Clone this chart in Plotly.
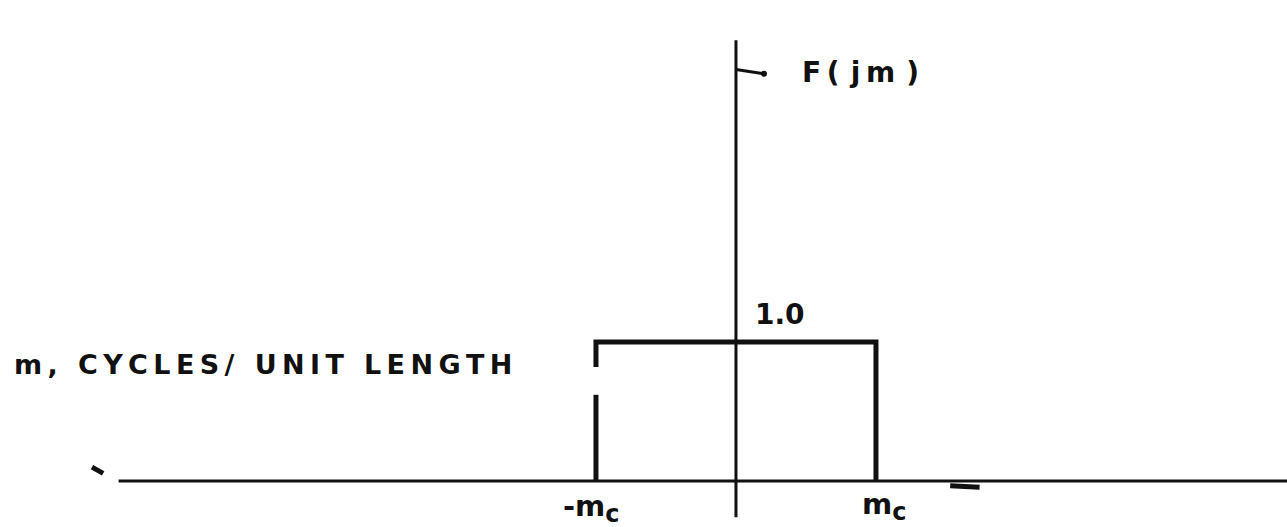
import plotly.graph_objects as go

# Ideal low-pass spectrum: F(jm) = 1.0 for |m| <= m_c, 0 elsewhere
m_c = 1.0
F_level = 1.0
rect_m = [-m_c, -m_c, None, -m_c, -m_c, m_c, m_c]
rect_F = [0.0, 0.62, None, 0.82, F_level, F_level, 0.0]

axis_m = [-4.41, 3.94]
axis_F = [-0.26, 3.17]

ink = "#111111"
font = "DejaVu Sans, Arial, sans-serif"
THIN = "\u2009"


def spaced(s):
    """Open up letter spacing the way stencil lettering is drawn."""
    return THIN.join(s)


fig = go.Figure()

# horizontal m axis
fig.add_trace(go.Scatter(x=axis_m, y=[0, 0], mode="lines",
                         line=dict(color=ink, width=3), hoverinfo="skip"))
# vertical F axis
fig.add_trace(go.Scatter(x=[0, 0], y=axis_F, mode="lines",
                         line=dict(color=ink, width=3), hoverinfo="skip"))
# rectangular pass band
fig.add_trace(go.Scatter(x=rect_m, y=rect_F, mode="lines",
                         line=dict(color=ink, width=5), hoverinfo="skip"))
# leader from axis to F(jm) label
fig.add_trace(go.Scatter(x=[0, 0.2], y=[2.96, 2.93], mode="lines",
                         line=dict(color=ink, width=3), hoverinfo="skip"))
fig.add_trace(go.Scatter(x=[0.2], y=[2.93], mode="markers",
                         marker=dict(color=ink, size=6), hoverinfo="skip"))
# short stroke beyond m_c and tick at the left end of the axis
fig.add_trace(go.Scatter(x=[1.53, 1.74], y=[-0.035, -0.045], mode="lines",
                         line=dict(color=ink, width=5), hoverinfo="skip"))
fig.add_trace(go.Scatter(x=[-4.6, -4.52], y=[0.1, 0.055], mode="lines",
                         line=dict(color=ink, width=5), hoverinfo="skip"))


def label(x, y, text, size, xanchor="left"):
    fig.add_annotation(x=x, y=y, text=text, showarrow=False,
                       xanchor=xanchor, yanchor="middle",
                       font=dict(family=font, size=size, color=ink))


label(0.46, 2.94,
      "<b>F" + THIN + "(" + THIN + THIN + "j" + THIN + "m" + THIN + THIN + ")</b>",
      28)
label(0.12, 1.20, "<b>1.0</b>", 28)
label(-5.17, 0.835, "<b>" + spaced("m, CYCLES/ UNIT LENGTH") + "</b>", 27)
label(-1.03, -0.2,
      "<b>-m<sub><span style='font-size:24px'>c</span></sub></b>", 29,
      xanchor="center")
label(1.06, -0.18,
      "<b>m<sub><span style='font-size:24px'>c</span></sub></b>", 29,
      xanchor="center")

fig.update_layout(
    width=1287, height=527,
    margin=dict(l=0, r=0, t=0, b=0),
    paper_bgcolor="white", plot_bgcolor="white",
    showlegend=False,
    xaxis=dict(range=[-5.257, 3.936], visible=False, fixedrange=True),
    yaxis=dict(range=[-0.331, 3.460], visible=False, fixedrange=True),
)

fig.write_html("out.html")
